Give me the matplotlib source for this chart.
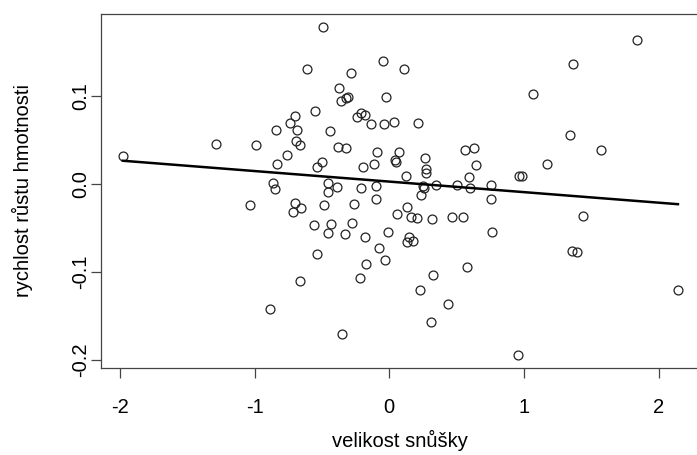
import matplotlib
matplotlib.use('Agg')
import matplotlib.pyplot as plt
import numpy as np

plt.rcParams['font.family'] = ['Liberation Sans', 'DejaVu Sans']

# clutch size (standardised) and growth rate
velikost = [-1.977, -1.289, -0.991, -0.841, -0.757, -0.833, -0.740, -0.697, -0.688, -0.693,
            -0.663, -0.614, -0.493, -0.552, -0.439, -0.382, -0.320, -0.500, -0.537, -0.375,
            -0.358, -0.320, -0.306, -0.049, -0.286, -0.025, -0.210, -0.178, -0.242, -0.136,
            -0.037, -0.094, -0.116, -0.197, -0.863, -0.850, -0.454, -0.454, -0.387, -0.210,
            -0.099, -0.099, -1.036, -0.698, -0.715, -0.656, -0.488, -0.264, -0.560, -0.434,
            -0.274, -0.451, -0.325, -0.180, -0.010, -0.074, -0.035, -0.172, -0.214, -0.537,
            -0.666, -0.885, -0.350, 0.111, 0.037, 0.214, 0.074, 0.044, 0.052, 0.264,
            0.274, 0.276, 0.126, 0.560, 0.632, 0.642, 0.592, 0.254, 0.259, 0.345,
            0.500, 0.601, 0.752, 0.752, 0.964, 0.986, 0.239, 0.131, 0.054, 0.160,
            0.209, 0.320, 0.464, 0.547, 0.148, 0.180, 0.135, 0.764, 0.323, 0.577,
            0.229, 0.439, 0.311, 0.957, 1.435, 1.356, 1.396, 2.143, 1.837, 1.363,
            1.067, 1.344, 1.575, 1.171]
rychlost = [0.032, 0.046, 0.044, 0.062, 0.033, 0.023, 0.069, 0.078, 0.061, 0.049,
            0.044, 0.131, 0.179, 0.083, 0.060, 0.042, 0.041, 0.025, 0.019, 0.109,
            0.094, 0.098, 0.099, 0.140, 0.126, 0.099, 0.081, 0.079, 0.076, 0.068,
            0.068, 0.037, 0.023, 0.019, 0.001, -0.006, 0.001, -0.009, -0.003, -0.005,
            -0.002, -0.017, -0.024, -0.022, -0.032, -0.027, -0.024, -0.023, -0.047, -0.046,
            -0.044, -0.056, -0.057, -0.060, -0.054, -0.073, -0.086, -0.091, -0.107, -0.080,
            -0.110, -0.142, -0.171, 0.131, 0.071, 0.069, 0.037, 0.027, 0.025, 0.030,
            0.017, 0.013, 0.009, 0.039, 0.041, 0.022, 0.008, -0.002, -0.005, -0.001,
            -0.001, -0.005, -0.001, -0.017, 0.009, 0.009, -0.013, -0.026, -0.034, -0.038,
            -0.039, -0.040, -0.038, -0.038, -0.060, -0.065, -0.066, -0.054, -0.104, -0.094,
            -0.121, -0.136, -0.157, -0.194, -0.036, -0.076, -0.077, -0.121, 0.164, 0.137,
            0.103, 0.056, 0.039, 0.023]

# fitted line (intercept, slope)
b0, b1 = 0.0028, -0.0120

x = np.array(velikost)
y = np.array(rychlost)

fig = plt.figure(figsize=(6.97, 4.55), dpi=100)
ax = fig.add_axes([0.1445, 0.192, 0.860, 0.778])

ax.plot(x, y, 'o', mfc='none', mec='#222222', ms=6.4, mew=0.9)
xl = np.array([x.min(), x.max()])
ax.plot(xl, b0 + b1 * xl, color='black', lw=1.8)

xr = x.max() - x.min()
yr = y.max() - y.min()
ax.set_xlim(x.min() - 0.04 * xr, x.max() + 0.04 * xr)
ax.set_ylim(y.min() - 0.04 * yr, y.max() + 0.04 * yr)

ax.set_xticks([-2, -1, 0, 1, 2])
ax.set_xticklabels(['-2', '-1', '0', '1', '2'])
ax.set_yticks([-0.2, -0.1, 0.0, 0.1])
ax.set_yticklabels(['-0.2', '-0.1', '0.0', '0.1'], rotation=90, va='center')

for s in ax.spines.values():
    s.set_color('#444444')
    s.set_linewidth(0.9)
ax.tick_params(axis='both', length=7, width=0.9, color='#444444', labelsize=14.5)
ax.tick_params(axis='x', pad=15)
ax.tick_params(axis='y', pad=0.5)

ax.set_xlabel('velikost snůšky', fontsize=14.5, va='center')
ax.set_ylabel('rychlost růstu hmotnosti', fontsize=14.5, va='center')
ax.xaxis.set_label_coords(0.5, -0.207)
ax.yaxis.set_label_coords(-0.131, 0.5)

fig.savefig('out.png', dpi=100)
